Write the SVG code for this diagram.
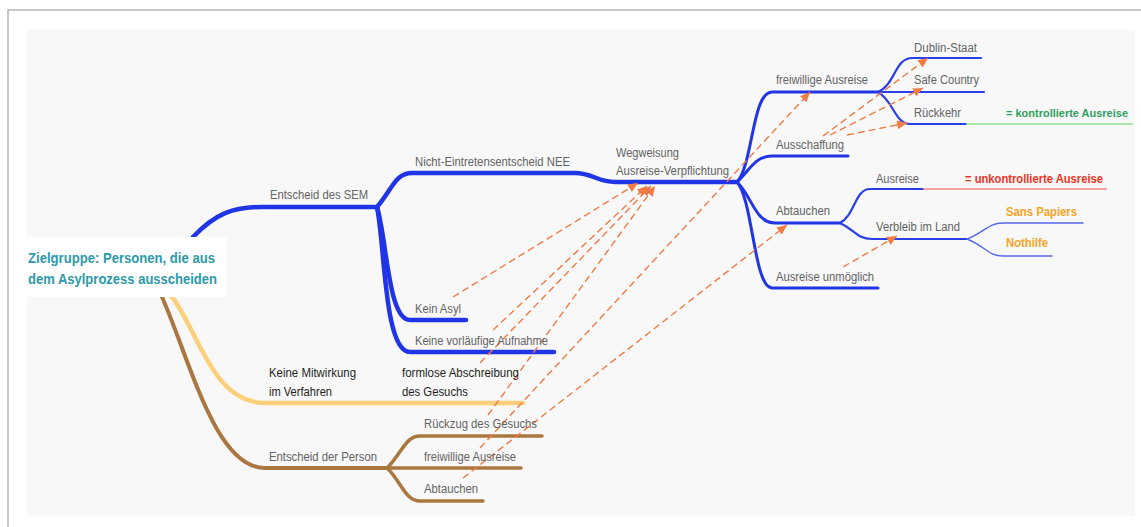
<svg xmlns="http://www.w3.org/2000/svg" width="1141" height="527" viewBox="0 0 1141 527">
<style>
.lbl{font-family:"Liberation Sans",Arial,sans-serif;font-size:12.5px;fill:#636363}
.blk{font-family:"Liberation Sans",Arial,sans-serif;font-size:12.5px;fill:#1e1e1e}
.bold{font-family:"Liberation Sans",Arial,sans-serif;font-size:12.5px;font-weight:bold}
.root{font-family:"Liberation Sans",Arial,sans-serif;font-size:14.5px;font-weight:bold;fill:#2d9aaa}
.b1{fill:none;stroke:#1f35e6;stroke-width:4.5;stroke-linecap:round}
.b2{fill:none;stroke:#1f35e6;stroke-width:3;stroke-linecap:round}
.b3{fill:none;stroke:#2a3fe6;stroke-width:2.2;stroke-linecap:round}
.b4{fill:none;stroke:#5568ee;stroke-width:1.4;stroke-linecap:round}
.yel{fill:none;stroke:#fcd07a;stroke-width:4.5;stroke-linecap:round}
.brn{fill:none;stroke:#a9773f;stroke-width:4;stroke-linecap:round}
.brn2{fill:none;stroke:#a9773f;stroke-width:3.5;stroke-linecap:round}
.dash{fill:none;stroke:#f27a45;stroke-width:1.4;stroke-dasharray:7 4;marker-end:url(#ah)}
</style>
<defs>
<marker id="ah" markerUnits="userSpaceOnUse" markerWidth="11" markerHeight="9" refX="10" refY="4.5" orient="auto">
<path d="M0,0 L10,4.5 L0,9 z" fill="#f27a45"/>
</marker>
</defs>
<rect x="0" y="0" width="1141" height="527" fill="#ffffff"/>
<path d="M8,527 L8,10 L1141,10" fill="none" stroke="#b5b5b5" stroke-width="1.5"/>
<rect x="27" y="30" width="1108" height="486" fill="#f7f8f7"/>

<g id="connectors">
<path class="b1" d="M193,237 C215,214 232,207 262,207 L377,207"/>
<path class="yel" d="M172,297 C198,330 212,403 265,403 L523,403"/>
<path class="brn" d="M162,297 C190,360 215,468 265,468 L387,468"/>
<path class="b1" d="M377,207 C392,190 395,173 412,173 L575,173 C592,173 598,182 615,182 L737,182"/>
<path class="b1" d="M377,207 C387,240 388,320 410,320 L466,320"/>
<path class="b1" d="M377,207 C385,245 384,352 410,352 L554,352"/>
<path class="brn2" d="M387,468 C401,455 405,436 420,436 L542,436"/>
<path class="brn2" d="M387,468 L521,468"/>
<path class="brn2" d="M387,468 C401,481 405,501 420,501 L483,501"/>
<path class="b2" d="M737,182 C753,165 752,92 772,92 L878,92"/>
<path class="b2" d="M737,182 C750,170 755,156 772,156 L848,156"/>
<path class="b2" d="M737,182 C752,196 755,223 775,223 L840,223"/>
<path class="b2" d="M737,182 C753,200 754,288 772,288 L878,288"/>
<path class="b3" d="M878,92 C895,85 895,58 912,58 L981,58"/>
<path class="b3" d="M878,92 L984,92"/>
<path class="b3" d="M878,92 C893,100 895,124 910,124 L966,124"/>
<path d="M966,124 L1133,124" fill="none" stroke="#8fe28f" stroke-width="1.5"/>
<path class="b3" d="M840,223 C855,215 855,189 870,189 L923,189"/>
<path d="M923,189 L1107,189" fill="none" stroke="#f28a84" stroke-width="1.5"/>
<path class="b3" d="M840,223 C855,230 857,239 872,239 L967,239"/>
<path class="b4" d="M967,239 C985,232 988,223 1003,223 L1083,223"/>
<path class="b4" d="M967,239 C985,246 988,256 1003,256 L1052,256"/>
<path class="dash" d="M453,297 L638,183"/>
<path class="dash" d="M493,330 L647,186"/>
<path class="dash" d="M480,363 L651,186"/>
<path class="dash" d="M488,415 L655,186"/>
<path class="dash" d="M480,448 L810,92"/>
<path class="dash" d="M463,478 L787,225"/>
<path class="dash" d="M823,136 L928,58"/>
<path class="dash" d="M830,135 L923,88"/>
<path class="dash" d="M847,135 L907,123"/>
<path class="dash" d="M843,267 L897,236"/>
</g>

<g id="root">
<rect x="26" y="237" width="201" height="60" rx="4" fill="#ffffff"/>
<text class="root" x="28" y="263" textLength="187" lengthAdjust="spacingAndGlyphs">Zielgruppe: Personen, die aus</text>
<text class="root" x="28" y="284" textLength="189" lengthAdjust="spacingAndGlyphs">dem Asylprozess ausscheiden</text>
</g>
<g id="n-sem"><text class="lbl" x="270" y="199" textLength="98" lengthAdjust="spacingAndGlyphs">Entscheid des SEM</text></g>
<g id="n-nee"><text class="lbl" x="415" y="166" textLength="155" lengthAdjust="spacingAndGlyphs">Nicht-Eintretensentscheid NEE</text></g>
<g id="n-weg">
<text class="lbl" x="616" y="157" textLength="63" lengthAdjust="spacingAndGlyphs">Wegweisung</text>
<text class="lbl" x="616" y="175" textLength="113" lengthAdjust="spacingAndGlyphs">Ausreise-Verpflichtung</text>
</g>
<g id="n-keinasyl"><text class="lbl" x="415" y="313" textLength="46" lengthAdjust="spacingAndGlyphs">Kein Asyl</text></g>
<g id="n-kva"><text class="lbl" x="415" y="345" textLength="133" lengthAdjust="spacingAndGlyphs">Keine vorläufige Aufnahme</text></g>
<g id="n-mitwirkung">
<text class="blk" x="269" y="377" textLength="87" lengthAdjust="spacingAndGlyphs">Keine Mitwirkung</text>
<text class="blk" x="269" y="396" textLength="63" lengthAdjust="spacingAndGlyphs">im Verfahren</text>
</g>
<g id="n-formlos">
<text class="blk" x="402" y="377" textLength="117" lengthAdjust="spacingAndGlyphs">formlose Abschreibung</text>
<text class="blk" x="402" y="396" textLength="66" lengthAdjust="spacingAndGlyphs">des Gesuchs</text>
</g>
<g id="n-person"><text class="lbl" x="269" y="461" textLength="108" lengthAdjust="spacingAndGlyphs">Entscheid der Person</text></g>
<g id="n-rueckzug"><text class="lbl" x="424" y="428" textLength="113" lengthAdjust="spacingAndGlyphs">Rückzug des Gesuchs</text></g>
<g id="n-frei2"><text class="lbl" x="424" y="461" textLength="92" lengthAdjust="spacingAndGlyphs">freiwillige Ausreise</text></g>
<g id="n-abt2"><text class="lbl" x="424" y="493" textLength="54" lengthAdjust="spacingAndGlyphs">Abtauchen</text></g>
<g id="n-frei"><text class="lbl" x="776" y="84" textLength="92" lengthAdjust="spacingAndGlyphs">freiwillige Ausreise</text></g>
<g id="n-aussch"><text class="lbl" x="776" y="149" textLength="68" lengthAdjust="spacingAndGlyphs">Ausschaffung</text></g>
<g id="n-abt"><text class="lbl" x="776" y="215" textLength="54" lengthAdjust="spacingAndGlyphs">Abtauchen</text></g>
<g id="n-unm"><text class="lbl" x="776" y="281" textLength="98" lengthAdjust="spacingAndGlyphs">Ausreise unmöglich</text></g>
<g id="n-dublin"><text class="lbl" x="914" y="52" textLength="63" lengthAdjust="spacingAndGlyphs">Dublin-Staat</text></g>
<g id="n-safe"><text class="lbl" x="914" y="84" textLength="65" lengthAdjust="spacingAndGlyphs">Safe Country</text></g>
<g id="n-rueckkehr"><text class="lbl" x="914" y="117" textLength="47" lengthAdjust="spacingAndGlyphs">Rückkehr</text></g>
<g id="n-kontr"><text class="bold" x="1006" y="117" fill="#2f9e5f" style="font-size:11.2px" textLength="122" lengthAdjust="spacingAndGlyphs">= kontrollierte Ausreise</text></g>
<g id="n-ausreise"><text class="lbl" x="876" y="183" textLength="43" lengthAdjust="spacingAndGlyphs">Ausreise</text></g>
<g id="n-unkontr"><text class="bold" x="965" y="183" fill="#ee3424" textLength="138" lengthAdjust="spacingAndGlyphs">= unkontrollierte Ausreise</text></g>
<g id="n-verbleib"><text class="lbl" x="876" y="231" textLength="84" lengthAdjust="spacingAndGlyphs">Verbleib im Land</text></g>
<g id="n-sans"><text class="bold" x="1006" y="216" fill="#f5a425" textLength="71" lengthAdjust="spacingAndGlyphs">Sans Papiers</text></g>
<g id="n-nothilfe"><text class="bold" x="1006" y="247" fill="#f5a425" textLength="42" lengthAdjust="spacingAndGlyphs">Nothilfe</text></g>
</svg>
